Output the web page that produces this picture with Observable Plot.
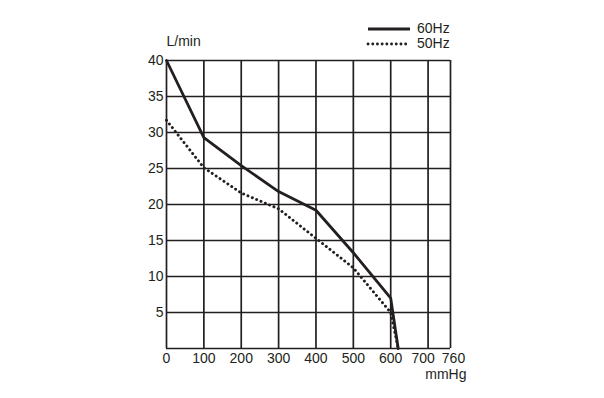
<!DOCTYPE html>
<html><head><meta charset="utf-8">
<script src="https://cdn.jsdelivr.net/npm/d3@7"></script>
<script src="https://cdn.jsdelivr.net/npm/@observablehq/plot@0.6"></script>
<style>
body{margin:0;background:#fff;font-family:"Liberation Sans",Arial,sans-serif;}
#wrap{position:relative;width:604px;height:398px;}
#legend{position:absolute;left:366px;top:21px;font-size:14px;color:#231f20;line-height:15px;}
#legend div{display:flex;align-items:center;height:15px;}
#legend svg{margin-right:5px;}
</style></head>
<body><div id="wrap"><div id="legend"></div></div>
<script>
const pressure = [0, 100, 200, 300, 400, 500, 600, 620];
const flow60 = [40, 29.3, 25.4, 21.8, 19.2, 13.3, 7, 0];
const flow50 = [31.7, 25.1, 21.6, 19.4, 15.3, 11.2, 5, 0];
const xTicks = [0, 100, 200, 300, 400, 500, 600, 700, 760];
const yTicks = [5, 10, 15, 20, 25, 30, 35, 40];
const yGrid = [0, 5, 10, 15, 20, 25, 30, 35, 40];
const series = [{name: "60Hz", values: flow60, dash: null}, {name: "50Hz", values: flow50, dash: "0.1 4.6"}];

const rows = series.flatMap(s => pressure.map((p, i) => ({series: s.name, p, q: s.values[i]})));
const ink = "#231f20";

const chart = Plot.plot({
  width: 604, height: 398,
  marginLeft: 166, marginRight: 154, marginTop: 60, marginBottom: 50,
  style: {fontFamily: '"Liberation Sans", Arial, sans-serif', fontSize: "14px", color: ink, background: "white"},
  x: {domain: [0, 760], tickSize: 0, label: null},
  y: {domain: [0, 40], tickSize: 0, label: null},
  marks: [
    Plot.ruleX(xTicks, {stroke: ink, strokeWidth: 1.7}),
    Plot.ruleY(yGrid, {stroke: ink, strokeWidth: 1.7}),
    Plot.line(rows.filter(d => d.series === "60Hz"), {x: "p", y: "q", stroke: ink, strokeWidth: 2.8, strokeLinejoin: "round"}),
    Plot.line(rows.filter(d => d.series === "50Hz"), {x: "p", y: "q", stroke: ink, strokeWidth: 2.9, strokeDasharray: "0.1 4.6", strokeLinecap: "round"}),
    Plot.axisX(xTicks.filter(t => t < 700), {tickSize: 0, tickPadding: 5, fontSize: 14}),
    Plot.axisX([700], {tickSize: 0, tickPadding: 5, fontSize: 14, dx: -5}),
    Plot.axisX([760], {tickSize: 0, tickPadding: 5, fontSize: 14, dx: 3}),
    Plot.axisY(yTicks, {tickSize: 0, tickPadding: 3, fontSize: 14}),
    Plot.text(["L/min"], {frameAnchor: "top-left", dy: -24, dx: 0, textAnchor: "start", fontSize: 14, fill: ink}),
    Plot.text(["mmHg"], {frameAnchor: "bottom-right", dy: 30, dx: 16, textAnchor: "end", fontSize: 14, fill: ink})
  ]
});
document.getElementById("wrap").appendChild(chart);

const legend = document.getElementById("legend");
for (const s of series) {
  const row = document.createElement("div");
  row.innerHTML = `<svg width="46" height="6"><line x1="2" x2="44" y1="3" y2="3" stroke="${ink}" stroke-width="2.8" ${s.dash ? `stroke-dasharray="${s.dash}" stroke-linecap="round"` : ""}/></svg><span>${s.name}</span>`;
  legend.appendChild(row);
}
</script></body></html>
